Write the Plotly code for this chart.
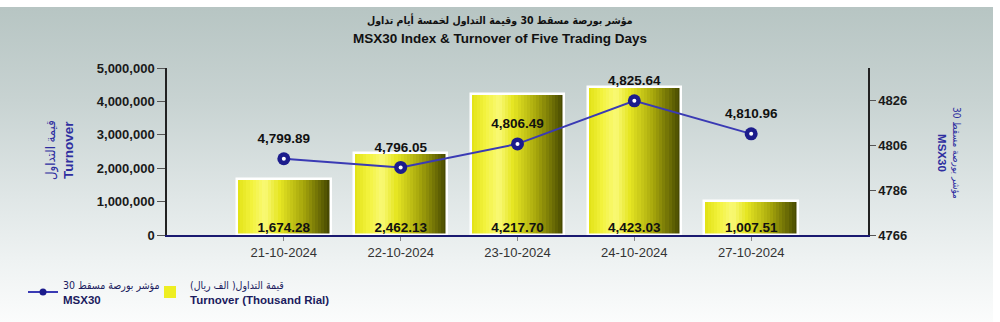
import base64
import plotly.graph_objects as go

# ---------------- data ----------------
dates = ["21-10-2024", "22-10-2024", "23-10-2024", "24-10-2024", "27-10-2024"]
turnover = [1674.28, 2462.13, 4217.70, 4423.03, 1007.51]      # label values
turnover_axis_factor = 1000                                    # plotted on the 0..5,000,000 axis
msx30 = [4799.89, 4796.05, 4806.49, 4825.64, 4810.96]
left_ticks = [0, 1000000, 2000000, 3000000, 4000000, 5000000]
right_ticks = [4766, 4786, 4806, 4826]

title_ar = "مؤشر بورصة مسقط 30 وقيمة التداول لخمسة أيام تداول"
title_en = "MSX30 Index & Turnover of Five Trading Days"
ytitle_ar = "قيمة التداول"
ytitle_en = "Turnover"
y2title_ar = "مؤشر بورصة مسقط 30"
y2title_en = "MSX30"
leg_line_ar = "مؤشر بورصة مسقط 30"
leg_bar_ar = "قيمة التداول( الف ريال)"
leg_bar_en = "Turnover (Thousand Rial)"

RLE, PDF = "\u202B", "\u202C"
FONT = "Arial, 'Liberation Sans', 'DejaVu Sans', sans-serif"
AR = "'DejaVu Sans Condensed', 'DejaVu Sans', sans-serif"


def ar(txt, size, bold=False):
    s = f'<span style="font-family:{AR};font-size:{size}px">{RLE}{txt}{PDF}</span>'
    return f"<b>{s}</b>" if bold else s


bar_y = [v * turnover_axis_factor for v in turnover]

# ---------------- layout geometry ----------------
W, H = 1000, 322
L, R, T, B = 167, 868, 68, 235
pw, ph = R - L, B - T


def py(p):
    """pixel row -> paper y"""
    return (B - p) / ph


def px(p):
    """pixel column -> paper x"""
    return (p - L) / pw


fig = go.Figure()

# gradient strips for bars
stops = [(0.0, (225, 225, 20)), (0.15, (242, 242, 60)), (0.3, (249, 249, 118)),
         (0.45, (230, 230, 35)), (0.7, (168, 168, 12)), (1.0, (66, 68, 0))]


def grad(t):
    for (t0, c0), (t1, c1) in zip(stops[:-1], stops[1:]):
        if t <= t1:
            f = (t - t0) / (t1 - t0)
            return "rgb(%d,%d,%d)" % tuple(round(a + (b - a) * f) for a, b in zip(c0, c1))
    return "rgb(%d,%d,%d)" % stops[-1][1]


BW = 0.8
N = 30
w = BW / N
for k in range(N):
    t = (k + 0.5) / N
    fig.add_trace(go.Bar(
        x=dates, y=bar_y, offset=-BW / 2 + k * w,
        width=w * 1.5 if k < N - 1 else w,
        marker=dict(color=grad(t), line=dict(width=0)),
        showlegend=False, hoverinfo="skip",
    ))

# white outline of bars
fig.add_trace(go.Bar(
    x=dates, y=bar_y, offset=-BW / 2, width=BW,
    marker=dict(color="rgba(0,0,0,0)", line=dict(color="white", width=2.5)),
    showlegend=False, hoverinfo="skip",
))

# bar value labels
fig.add_trace(go.Scatter(
    x=dates, y=[0] * len(dates), mode="text",
    text=[f"{v:,.2f}" for v in turnover], textposition="top center",
    textfont=dict(family=FONT, size=13.5, color="#111111", weight="bold"),
    showlegend=False, cliponaxis=False, hoverinfo="skip",
))

# index line
fig.add_trace(go.Scatter(
    x=dates, y=msx30, yaxis="y2", mode="lines+markers",
    line=dict(color="#3a3ab4", width=2),
    marker=dict(size=13, color="#1c1c8c"),
    showlegend=False, hoverinfo="skip",
))
fig.add_trace(go.Scatter(
    x=dates, y=msx30, yaxis="y2", mode="markers",
    marker=dict(size=4, color="white"), showlegend=False, hoverinfo="skip",
))
fig.add_trace(go.Scatter(
    x=dates, y=msx30, yaxis="y2", mode="markers+text",
    marker=dict(size=18, color="rgba(0,0,0,0)"),
    text=[f"{v:,.2f}" for v in msx30], textposition="top center",
    textfont=dict(family=FONT, size=13.5, color="#111111", weight="bold"),
    showlegend=False, cliponaxis=False, hoverinfo="skip",
))

# legend entries
fig.add_trace(go.Scatter(
    x=[None], y=[None], mode="lines+markers",
    line=dict(color="#3a3ab4", width=2), marker=dict(size=7, color="#1c1c8c"),
    name=ar(leg_line_ar, 10.5) + "<br><b>" + y2title_en + "</b>", legend="legend",
))
fig.add_trace(go.Bar(
    x=[None], y=[None], marker=dict(color="#eeee22", line=dict(width=0)),
    name=ar(leg_bar_ar, 10.5) + "<br><b>" + leg_bar_en + "</b>", legend="legend2",
))

# background gradient image
svg = (
    f'<svg xmlns="http://www.w3.org/2000/svg" width="{W}" height="{H}" viewBox="0 0 {W} {H}" preserveAspectRatio="none">'
    '<defs><linearGradient id="g" x1="0" y1="0" x2="0" y2="1">'
    '<stop offset="0" stop-color="#b7c5c3"/>'
    '<stop offset="0.3" stop-color="#c8d3d2"/>'
    '<stop offset="0.6" stop-color="#dfe6e6"/>'
    '<stop offset="0.8" stop-color="#eef2f2"/>'
    '<stop offset="1" stop-color="#fbfcfc"/>'
    '</linearGradient></defs>'
    f'<rect x="0" y="7" width="993" height="{H - 7}" fill="url(#g)"/></svg>'
)
src = "data:image/svg+xml;base64," + base64.b64encode(svg.encode()).decode()

legend_common = dict(
    orientation="h", xref="container", yref="container",
    y=1 - 292 / H, xanchor="left", yanchor="middle",
    bgcolor="rgba(0,0,0,0)",
    font=dict(family=FONT, size=11.5, color="#1b1b5e"),
)

fig.update_layout(
    width=W, height=H,
    margin=dict(l=L, r=W - R, t=T, b=H - B, pad=0, autoexpand=False),
    paper_bgcolor="white", plot_bgcolor="rgba(0,0,0,0)",
    barmode="overlay", bargap=0,
    font=dict(family=FONT, color="#222222"),
    images=[dict(source=src, xref="paper", yref="paper",
                 x=px(0), y=py(0), sizex=W / pw, sizey=H / ph,
                 xanchor="left", yanchor="top", sizing="stretch", layer="below")],
    title=dict(
        text="<b>" + title_en + "</b>",
        x=0.5, xref="container", xanchor="center",
        y=1 - 38 / H, yref="container", yanchor="middle",
        font=dict(family=FONT, size=13.5, color="#111111"),
    ),
    xaxis=dict(
        type="category", range=[-1, 5], showgrid=False, zeroline=False,
        showline=True, linecolor="#1a1a70", linewidth=2,
        ticks="outside", ticklen=4, tickcolor="#888888",
        tickfont=dict(family=FONT, size=13, color="#333333"),
    ),
    yaxis=dict(
        range=[0, 5000000], tickvals=left_ticks, tickformat=",d",
        showgrid=False, zeroline=False, showline=True, linecolor="#222222", linewidth=1.5,
        ticks="outside", ticklen=8, tickcolor="#555555",
        tickfont=dict(family=FONT, size=13, color="#1a1a1a", weight="bold"),
    ),
    yaxis2=dict(
        overlaying="y", side="right", range=[4766, 4766 + (4826 - 4766) * ph / (B - 100)],
        tickvals=right_ticks, showgrid=False, zeroline=False,
        showline=True, linecolor="#222222", linewidth=1.5,
        ticks="outside", ticklen=6, tickcolor="#555555",
        tickfont=dict(family=FONT, size=13, color="#1a1a1a", weight="bold"),
    ),
    legend=dict(x=0.023, **legend_common),
    legend2=dict(x=0.150, **legend_common),
    annotations=[
        dict(text=ar(title_ar, 10.5, bold=True),
             xref="paper", yref="paper", x=px(500), y=py(20),
             xanchor="center", yanchor="middle", showarrow=False,
             font=dict(family=FONT, size=13, color="#111111")),
        dict(text=ar(ytitle_ar, 13) + "<br><b>" + ytitle_en + "</b>", textangle=-90,
             xref="paper", yref="paper", x=px(59), y=py(150),
             xanchor="center", yanchor="middle", showarrow=False,
             font=dict(family=FONT, size=13.5, color="#2e2ea0")),
        dict(text=ar(y2title_ar, 10) + "<br><b>" + y2title_en + "</b>", textangle=90,
             xref="paper", yref="paper", x=px(949), y=py(153),
             xanchor="center", yanchor="middle", showarrow=False,
             font=dict(family=FONT, size=11.5, color="#2e2ea0")),
    ],
)

fig.write_html("out.html")
